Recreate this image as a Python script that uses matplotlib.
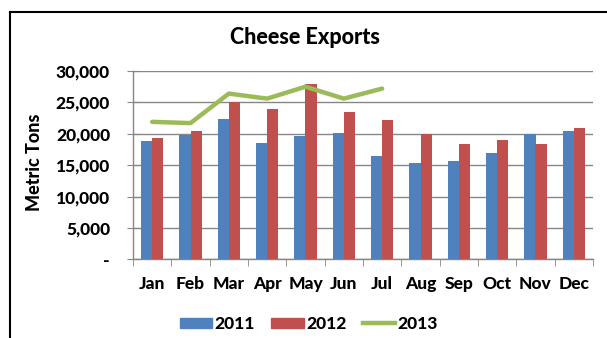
import matplotlib
matplotlib.use("Agg")
import matplotlib.pyplot as plt
import numpy as np
from matplotlib.lines import Line2D

months = ["Jan", "Feb", "Mar", "Apr", "May", "Jun", "Jul", "Aug", "Sep", "Oct", "Nov", "Dec"]
exports_2011 = [18800, 19800, 22400, 18500, 19600, 20200, 16400, 15300, 15700, 17000, 19900, 20400]
exports_2012 = [19400, 20500, 25000, 24000, 27900, 23500, 22200, 20000, 18300, 19000, 18300, 20900]
exports_2013 = [21900, 21700, 26400, 25600, 27500, 25600, 27200]
yticks = [0, 5000, 10000, 15000, 20000, 25000, 30000]
ytick_labels = ["-", "5,000", "10,000", "15,000", "20,000", "25,000", "30,000"]

plt.rcParams['font.family'] = ['Lato', 'DejaVu Sans']

fig = plt.figure(figsize=(6.07, 3.38), dpi=100)
ax = fig.add_axes([133/607, 1-259.3/338, (593-133)/607, (259.3-71)/338])

x = np.arange(len(months))
w = 0.29
ax.bar(x - w/2, exports_2011, width=w, color="#4F81BD", zorder=3, label="2011")
ax.bar(x + w/2, exports_2012, width=w, color="#C0504D", zorder=3, label="2012")
ax.plot(x[:len(exports_2013)], exports_2013, color="#9BBB59", lw=3.2, zorder=4,
        solid_capstyle="round", solid_joinstyle="round", label="2013")

ax.set_xlim(-0.5, len(months) - 0.5)
ax.set_ylim(0, 30000)
ax.set_yticks(yticks)
ax.set_yticklabels(ytick_labels, fontsize=12.5, fontweight="black")
ax.set_xticks(x)
ax.set_xticklabels(months, fontsize=12.5, fontweight="black")
ax.set_xticks(np.arange(-0.5, len(months) + 0.5, 1), minor=True)
ax.tick_params(axis="x", which="major", length=0, pad=12)
ax.tick_params(axis="x", which="minor", length=5, direction="out", color="#868686")
ax.tick_params(axis="y", which="major", length=9, direction="inout", color="#868686", pad=12)

ax.grid(axis="y", color="#868686", lw=1, zorder=0)
for s in ["top", "right"]:
    ax.spines[s].set_visible(False)
for s in ["left", "bottom"]:
    ax.spines[s].set_color("#868686")
    ax.spines[s].set_linewidth(1)

fig.text(35/607, 1-162/338, "Metric Tons", rotation=90, fontsize=13, fontweight="black",
         ha="center", va="center")

fig.text(305/607, 1-37/338, "Cheese Exports", fontsize=15.5, fontweight="black",
         ha="center", va="center")

handles = [plt.Rectangle((0, 0), 1, 1, color="#4F81BD"),
           plt.Rectangle((0, 0), 1, 1, color="#C0504D"),
           Line2D([0], [0], color="#9BBB59", lw=3.2)]
fig.legend(handles, ["2011", "2012", "2013"], loc="center", bbox_to_anchor=(309/607, 1-324/338),
           ncol=3, frameon=False, prop={"size": 12.5, "weight": "black"},
           handlelength=1.85, handleheight=0.55, columnspacing=0.95, handletextpad=0.15)

# chart frame (left and top border)
fig.add_artist(Line2D([9.5/607, 9.5/607], [0, 1-12/338], color="black", lw=1.5, transform=fig.transFigure))
fig.add_artist(Line2D([9.5/607, 1], [1-12/338, 1-12/338], color="black", lw=1.5, transform=fig.transFigure))

fig.savefig("out.png", dpi=100)
